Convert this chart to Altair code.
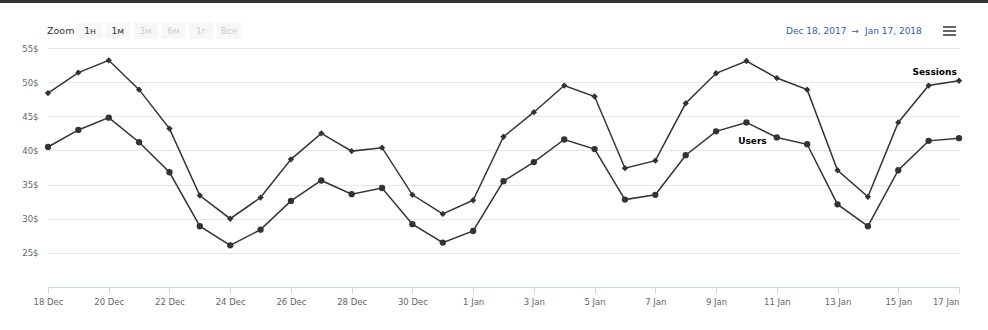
import altair as alt
import pandas as pd

# ---- data ----
dates = pd.date_range("2017-12-18", "2018-01-17", freq="D").strftime("%Y-%m-%d").tolist()
sessions = [48.4, 51.4, 53.2, 48.9, 43.2, 33.4, 30.0, 33.1, 38.7, 42.5,
            39.9, 40.4, 33.5, 30.7, 32.7, 42.0, 45.6, 49.5, 47.9, 37.4,
            38.5, 46.9, 51.3, 53.1, 50.6, 48.9, 37.1, 33.2, 44.1, 49.5, 50.2]
users = [40.5, 43.0, 44.8, 41.2, 36.8, 28.9, 26.1, 28.4, 32.6, 35.6,
         33.6, 34.5, 29.2, 26.5, 28.2, 35.5, 38.3, 41.6, 40.2, 32.8,
         33.5, 39.3, 42.8, 44.1, 41.9, 40.9, 32.1, 28.9, 37.1, 41.4, 41.8]
y_ticks = [25, 30, 35, 40, 45, 50, 55]
x_tick_dates = dates[::2]
buttons = ["1н", "1м", "3м", "6м", "1г", "Все"]
buttons_active = [True, True, False, False, False, False]
range_from = "Dec 18, 2017"
range_to = "Jan 17, 2018"

W, H = 911, 239
FONT = "DejaVu Sans"

df = pd.DataFrame({
    "date": dates * 2,
    "value": sessions + users,
    "series": ["Sessions"] * len(dates) + ["Users"] * len(dates),
})

def dt(s):
    y, m, d = map(int, s.split("-"))
    return alt.DateTime(year=y, month=m, date=d, utc=True)

x_enc = alt.X(
    "date:T",
    scale=alt.Scale(type="utc", domain=[dt(dates[0]), dt(dates[-1])]),
    axis=alt.Axis(
        values=[dt(d) for d in x_tick_dates],
        labelExpr="utcFormat(datum.value, '%-d %b')", title=None,
        grid=False, domainColor="#ccd6eb", tickColor="#ccd6eb",
        tickSize=6, labelColor="#666666", labelFont=FONT, labelFontSize=8.5,
        labelPadding=4, labelOverlap=False,
        labelAlign={"condition": {"test": "datum.index >= 0.99", "value": "right"}, "value": "center"},
    ),
)
y_enc = alt.Y(
    "value:Q",
    scale=alt.Scale(domain=[20, 55], nice=False, zero=False),
    axis=alt.Axis(
        values=y_ticks, labelExpr="datum.value + '$'", title=None,
        domain=False, ticks=False, gridColor="#e6e6e6", gridWidth=1,
        labelOverlap=False,
        labelColor="#666666", labelFont=FONT, labelFontSize=8.5, labelPadding=10,
    ),
)

base = alt.Chart(df)
lines = base.mark_line(color="#333333", strokeWidth=1.5).encode(
    x=x_enc, y=y_enc, detail="series:N")
pts = base.mark_point(filled=True, color="#333333", opacity=1).encode(
    x=x_enc, y=y_enc,
    shape=alt.Shape("series:N", scale=alt.Scale(domain=["Sessions", "Users"], range=["diamond", "circle"]), legend=None),
    size=alt.Size("series:N", scale=alt.Scale(domain=["Sessions", "Users"], range=[40, 40]), legend=None),
)

lab_s = alt.Chart(pd.DataFrame({"date": [dates[-2]], "value": [sessions[-2]], "t": ["Sessions"]})).mark_text(
    font=FONT, fontSize=9, fontWeight="bold", color="#000000", dx=6, dy=-14
).encode(x=x_enc, y=y_enc, text="t:N")
lab_u = alt.Chart(pd.DataFrame({"date": [dates[23]], "value": [users[23]], "t": ["Users"]})).mark_text(
    font=FONT, fontSize=9, fontWeight="bold", color="#000000", dx=6, dy=19
).encode(x=x_enc, y=y_enc, text="t:N")

# ---- decorations (header) ----
one = pd.DataFrame({"a": [0]})
topbar = alt.Chart(one).mark_rect(color="#333333").encode(
    x=alt.value(-48), x2=alt.value(W + 29), y=alt.value(-48), y2=alt.value(-45))

bdf = pd.DataFrame({"b": buttons, "active": buttons_active, "i": list(range(len(buttons)))})
bdf["x0"] = 30 + bdf["i"] * 27.8
bdf["x1"] = bdf["x0"] + 24
bdf["xc"] = bdf["x0"] + 12
bdf["col"] = ["#333333" if a else "#cccccc" for a in bdf["active"]]
btn_rect = alt.Chart(bdf).mark_rect(color="#f7f7f7").encode(
    x=alt.X("x0:Q", scale=None, axis=None), x2="x1:Q", y=alt.value(-26), y2=alt.value(-9))
btn_txt = alt.Chart(bdf).mark_text(font=FONT, fontSize=9, baseline="middle").encode(
    x=alt.X("xc:Q", scale=None, axis=None), y=alt.value(-17), text="b:N",
    color=alt.Color("col:N", scale=None))
zoom_txt = alt.Chart(one).mark_text(font=FONT, fontSize=9.5, align="left", baseline="middle", color="#333333").encode(
    x=alt.value(-1), y=alt.value(-17), text=alt.value("Zoom"))

rng_from = alt.Chart(one).mark_text(font=FONT, fontSize=9, align="left", baseline="middle", color="#335cad").encode(
    x=alt.value(738), y=alt.value(-17), text=alt.value(range_from))
rng_arrow = alt.Chart(one).mark_text(font=FONT, fontSize=9, align="center", baseline="middle", color="#335cad").encode(
    x=alt.value(807), y=alt.value(-17), text=alt.value("→"))
rng_to = alt.Chart(one).mark_text(font=FONT, fontSize=9, align="left", baseline="middle", color="#335cad").encode(
    x=alt.value(817), y=alt.value(-17), text=alt.value(range_to))

ham = alt.Chart(pd.DataFrame({"yy": [-21, -17, -13]})).mark_rule(color="#666666", strokeWidth=2).encode(
    x=alt.value(895), x2=alt.value(908), y=alt.Y("yy:Q", scale=None, axis=None))

chart = alt.layer(
    topbar, btn_rect, btn_txt, zoom_txt, rng_from, rng_arrow, rng_to, ham,
    lines, pts, lab_s, lab_u,
).properties(
    width=W, height=H,
    autosize=alt.AutoSizeParams(type="none"),
    padding={"left": 48, "top": 48, "right": 29, "bottom": 43},
    view=alt.ViewBackground(strokeOpacity=0, strokeWidth=0),
).configure_view(strokeOpacity=0, strokeWidth=0).configure(background="#ffffff")

chart.save("out.html", embed_options={"renderer": "svg", "actions": False})
